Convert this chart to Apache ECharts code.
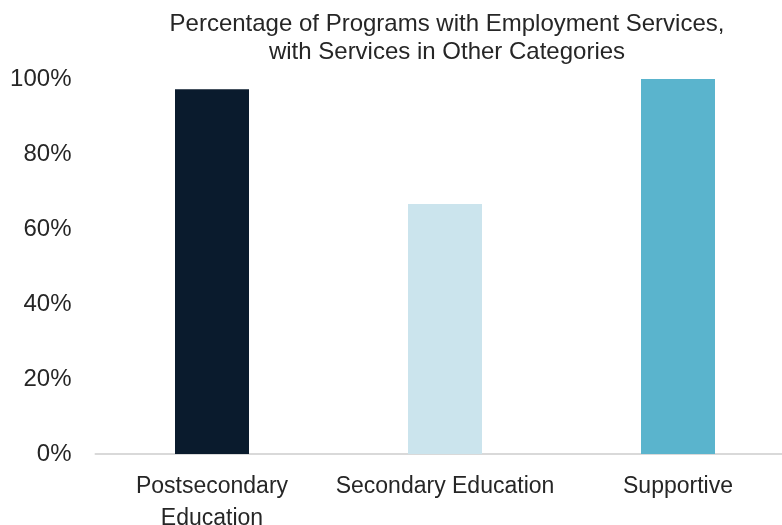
<!DOCTYPE html>
<html>
<head>
<meta charset="utf-8">
<script src="https://cdn.jsdelivr.net/npm/echarts@6/dist/echarts.min.js"></script>
<style>
  html, body { margin: 0; padding: 0; background: #fff; }
  #chart { width: 782px; height: 525px; }
</style>
</head>
<body>
<div id="chart"></div>
<script>
// 数据
var categories = ['Postsecondary\nEducation', 'Secondary Education', 'Supportive']
var values = [97.3, 66.7, 100]
var barColors = ['#0A1B2D', '#CBE4ED', '#5AB4CD']
var yTicks = [0, 20, 40, 60, 80, 100]

var font = '"Liberation Sans", Arial, Helvetica, sans-serif'
var textColor = '#262626'

var chart = echarts.init(document.getElementById('chart'))

var option = {
    animation: false,
    title: {
        text: 'Percentage of Programs with Employment Services,\nwith Services in Other Categories',
        left: 442,
        top: 5,
        textAlign: 'center',
        textStyle: {
            fontFamily: font,
            fontSize: 24,
            fontWeight: 'normal',
            color: textColor,
            lineHeight: 28
        }
    },
    // 绘图区右侧超出画布（原图被裁切）
    grid: {
        left: 95.5,
        top: 79,
        width: 699,
        height: 375,
        containLabel: false,
        outerBoundsMode: 'none'
    },
    xAxis: {
        type: 'category',
        data: categories,
        axisTick: { show: false },
        axisLine: { lineStyle: { color: '#D9D9D9', width: 2 } },
        axisLabel: {
            fontFamily: font,
            fontSize: 23,
            color: textColor,
            lineHeight: 32,
            margin: 17,
            interval: 0
        }
    },
    yAxis: {
        type: 'value',
        min: yTicks[0],
        max: yTicks[yTicks.length - 1],
        interval: 20,
        splitLine: { show: false },
        axisLine: { show: false },
        axisTick: { show: false },
        axisLabel: {
            fontFamily: font,
            fontSize: 24,
            color: textColor,
            margin: 24,
            formatter: '{value}%'
        }
    },
    series: [
        {
            type: 'bar',
            barWidth: 74,
            data: values.map(function (v, i) {
                return { value: v, itemStyle: { color: barColors[i] } }
            })
        }
    ]
}
chart.setOption(option)
</script>
</body>
</html>
